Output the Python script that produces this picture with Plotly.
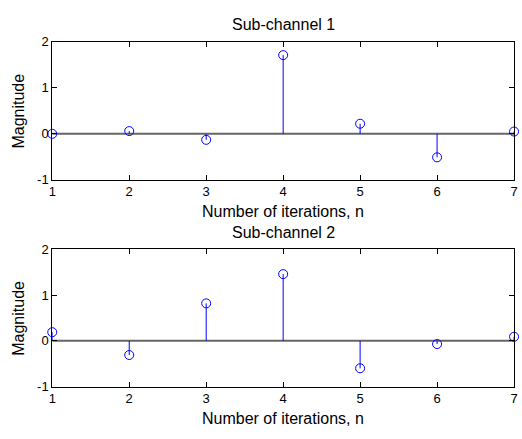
import plotly.graph_objects as go

n = [1, 2, 3, 4, 5, 6, 7]
ch1 = [0.0, 0.06, -0.13, 1.71, 0.22, -0.51, 0.05]
ch2 = [0.19, -0.31, 0.82, 1.46, -0.60, -0.07, 0.09]
titles = ["Sub-channel 1", "Sub-channel 2"]
xlabel = "Number of iterations, n"
ylabel = "Magnitude"
xticks = [1, 2, 3, 4, 5, 6, 7]
yticks = [-1, 0, 1, 2]
yticklabels = ["-1", "0", "1", "2"]

W, H = 522, 439
BLUE = "#0000ff"
FONT = "Liberation Sans, Arial, sans-serif"

fig = go.Figure()

# pixel boxes (left, right, top, bottom)
boxes = [(49, 518, 36, 179), (49, 518, 251, 393)]
series = [ch1, ch2]

for i, (vals, box) in enumerate(zip(series, boxes)):
    xa = "x" if i == 0 else "x2"
    ya = "y" if i == 0 else "y2"
    fig.add_trace(go.Scatter(x=[n[0], n[-1]], y=[0, 0], mode="lines",
                             line=dict(color="#666666", width=2),
                             xaxis=xa, yaxis=ya, showlegend=False, hoverinfo="skip"))
    sx, sy = [], []
    for xv, yv in zip(n, vals):
        sx += [xv, xv, None]
        sy += [0, yv, None]
    fig.add_trace(go.Scatter(x=sx, y=sy, mode="lines",
                             line=dict(color=BLUE, width=1),
                             xaxis=xa, yaxis=ya, showlegend=False, hoverinfo="skip"))
    fig.add_trace(go.Scatter(x=n, y=vals, mode="markers",
                             marker=dict(symbol="circle-open", size=9, color=BLUE,
                                         line=dict(width=1, color=BLUE)),
                             cliponaxis=False,
                             xaxis=xa, yaxis=ya, showlegend=False))

def axis_common():
    return dict(showgrid=False, zeroline=False, showline=True, linecolor="#000000",
                linewidth=1, mirror="ticks", ticks="inside", ticklen=5,
                tickcolor="#000000", tickfont=dict(family=FONT, size=13, color="#000000"))

layout = dict(autosize=True, margin=dict(l=0, r=0, t=0, b=0),
              paper_bgcolor="white", plot_bgcolor="white", showlegend=False)

for i, box in enumerate(boxes):
    l, r, t, b = box
    xk = "xaxis" if i == 0 else "xaxis2"
    yk = "yaxis" if i == 0 else "yaxis2"
    xa = axis_common()
    xa.update(domain=[l / W, r / W], range=[n[0], n[-1]], tickvals=xticks,
              anchor="y" if i == 0 else "y2")
    ya = axis_common()
    ya.update(domain=[1 - b / H, 1 - t / H], range=[yticks[0], yticks[-1]],
              tickvals=yticks, ticktext=yticklabels,
              anchor="x" if i == 0 else "x2")
    layout[xk] = xa
    layout[yk] = ya

fig.update_layout(**layout)

ann = []
for i, box in enumerate(boxes):
    l, r, t, b = box
    cx = (l + r) / 2 / W
    ann.append(dict(text=titles[i], x=cx, y=1 - (t - 18) / H, xref="paper", yref="paper",
                    showarrow=False, font=dict(family=FONT, size=16, color="#000000"),
                    xanchor="center", yanchor="middle"))
    ann.append(dict(text=xlabel, x=cx, y=1 - (b + 33) / H, xref="paper", yref="paper",
                    showarrow=False, font=dict(family=FONT, size=16, color="#000000"),
                    xanchor="center", yanchor="middle"))
    ann.append(dict(text=ylabel, x=15 / W, y=1 - ((t + b) / 2) / H, xref="paper", yref="paper",
                    showarrow=False, textangle=-90, font=dict(family=FONT, size=16, color="#000000"),
                    xanchor="center", yanchor="middle"))
fig.update_layout(annotations=ann)

fig.write_html("out.html", config={"displayModeBar": False, "staticPlot": True, "responsive": True},
               default_width="100%", default_height="100%")

with open("out.html", "r", encoding="utf-8") as f:
    html = f.read()
css = "<style>html,body{margin:0;padding:0;overflow:hidden;width:100%;height:100%;}body>div{width:100%;height:100%;}</style>"
html = html.replace("<head>", "<head>" + css, 1)
with open("out.html", "w", encoding="utf-8") as f:
    f.write(html)
